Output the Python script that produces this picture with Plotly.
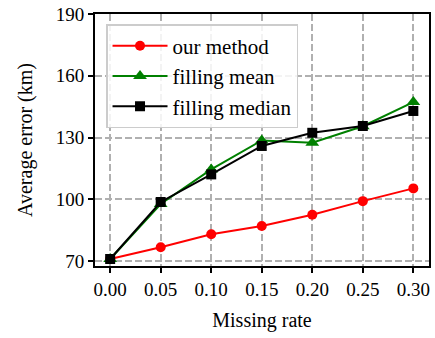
import plotly.graph_objects as go

missing_rate = [0.00, 0.05, 0.10, 0.15, 0.20, 0.25, 0.30]
our_method = [71.0, 76.7, 83.0, 87.0, 92.5, 99.1, 105.3]
filling_mean = [71.0, 97.7, 114.5, 128.6, 127.5, 135.5, 147.2]
filling_median = [71.0, 98.7, 112.1, 125.9, 132.3, 135.6, 142.9]
x_ticks = [0.00, 0.05, 0.10, 0.15, 0.20, 0.25, 0.30]
y_ticks = [70, 100, 130, 160, 190]

font = "Liberation Serif"
fig = go.Figure()
series = [
    ("our method", our_method, "#ff0000", "circle", 10),
    ("filling mean", filling_mean, "#008000", "triangle-up", 12),
    ("filling median", filling_median, "#000000", "square", 10),
]
for name, ys, color, sym, msize in series:
    fig.add_trace(go.Scatter(
        x=missing_rate, y=ys, name=name, mode="lines+markers",
        line=dict(color=color, width=2),
        marker=dict(color=color, symbol=sym, size=msize, line=dict(width=0)),
    ))

fig.update_layout(
    width=435, height=338,
    margin=dict(l=95, r=6, t=14, b=72),
    paper_bgcolor="white", plot_bgcolor="white",
    font=dict(family=font, size=19, color="black"),
    showlegend=True,
    legend=dict(
        x=0.033, y=0.96, xanchor="left", yanchor="top",
        bgcolor="rgba(255,255,255,0.85)", bordercolor="#cccccc", borderwidth=1.5,
        font=dict(family=font, size=21), tracegroupgap=0, itemwidth=55,
    ),
)
grid = dict(showgrid=True, gridcolor="#b0b0b0", griddash="7px,3px", gridwidth=1.5,
            showline=True, linecolor="black", linewidth=1.8, mirror=True,
            ticks="outside", ticklen=5, tickwidth=1.5, tickcolor="black",
            zeroline=False, automargin=False)
fig.update_xaxes(
    range=[-0.015, 0.3155], tickvals=x_ticks, ticktext=[f"{v:.2f}" for v in x_ticks],
    title=dict(text="Missing rate", font=dict(family=font, size=20), standoff=14),
    **grid,
)
fig.update_yaxes(
    range=[67.6, 190], tickvals=y_ticks,
    title=dict(text="Average error (km)", font=dict(family=font, size=20), standoff=18),
    **grid,
)
fig.write_html(
    "out.html",
    config={"displayModeBar": False},
    post_script="document.body.style.margin='0';document.body.style.overflow='hidden';",
)
